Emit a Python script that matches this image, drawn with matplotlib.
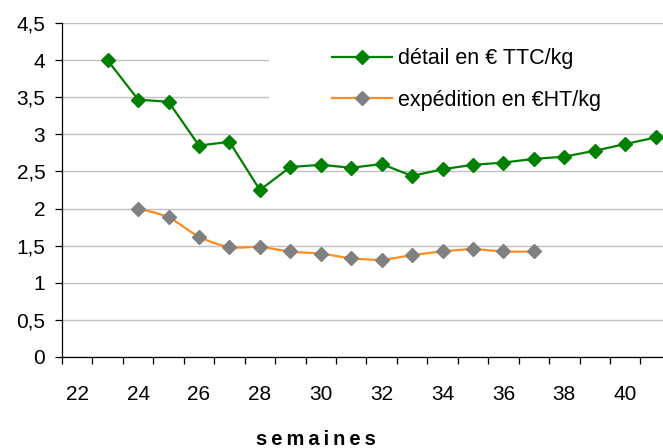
import numpy as np
import matplotlib
matplotlib.use("Agg")
import matplotlib.pyplot as plt
from matplotlib.path import Path
from matplotlib.patches import PathPatch, Rectangle
from matplotlib.lines import Line2D
from matplotlib.ticker import FuncFormatter, FixedLocator

plt.rcParams['font.family'] = ['Liberation Sans', 'DejaVu Sans']

# retail price, weeks 23-41
detail_weeks = [23, 24, 25, 26, 27, 28, 29, 30, 31, 32, 33, 34, 35, 36, 37, 38, 39, 40, 41]
detail_prices = [4.00, 3.47, 3.44, 2.85, 2.90, 2.25, 2.56, 2.59, 2.55, 2.60, 2.44, 2.53,
                 2.59, 2.62, 2.67, 2.70, 2.78, 2.87, 2.96]

# shipping price, weeks 24-37
exp_weeks = [24, 25, 26, 27, 28, 29, 30, 31, 32, 33, 34, 35, 36, 37]
exp_prices = [2.00, 1.88, 1.62, 1.48, 1.48, 1.42, 1.39, 1.33, 1.31, 1.37, 1.42, 1.45, 1.42, 1.42]

x_labels = [22, 24, 26, 28, 30, 32, 34, 36, 38, 40]
y_ticks = [0, 0.5, 1, 1.5, 2, 2.5, 3, 3.5, 4, 4.5]

green = '#008000'
orange = '#ff8c1e'
grey = '#808080'

fig = plt.figure(figsize=(6.63, 4.48), dpi=100)
ax = fig.add_axes([62 / 663, 1 - 356.7 / 448, 601 / 663, 333.4 / 448])

ax.set_xlim(21.5, 41.24)
ax.set_ylim(0, 4.5)

# gridlines and white area behind the legend
ax.set_axisbelow(True)
ax.yaxis.grid(True, color='#c0c0c0', linewidth=1.0)
ax.add_patch(Rectangle((0.344, 0.72), 0.66, 0.26, transform=ax.transAxes,
                       facecolor='white', edgecolor='none', zorder=1))

# retail line
ax.plot(detail_weeks, detail_prices, color=green, linewidth=1.6, marker='D',
        markersize=7, markerfacecolor=green, markeredgecolor=green, zorder=3)

# shipping line, smoothed like Excel
pts = np.column_stack([exp_weeks, exp_prices])
n = len(pts)
verts = [pts[0]]
codes = [Path.MOVETO]
for i in range(n - 1):
    p0 = pts[max(i - 1, 0)]
    p1 = pts[i]
    p2 = pts[i + 1]
    p3 = pts[min(i + 2, n - 1)]
    verts += [p1 + (p2 - p0) / 6, p2 - (p3 - p1) / 6, p2]
    codes += [Path.CURVE4] * 3
ax.add_patch(PathPatch(Path(verts, codes), fill=False, edgecolor=orange,
                       linewidth=1.6, zorder=2))
ax.plot(exp_weeks, exp_prices, linestyle='none', marker='D', markersize=7,
        markerfacecolor=grey, markeredgecolor=grey, zorder=3)

handles = [
    Line2D([], [], color=green, linewidth=1.6, marker='D', markersize=7,
           markerfacecolor=green, markeredgecolor=green),
    Line2D([], [], color=orange, linewidth=1.6, marker='D', markersize=7,
           markerfacecolor=grey, markeredgecolor=grey),
]
ax.legend(handles, ['détail en € TTC/kg', 'expédition en €HT/kg'],
          loc='upper left', bbox_to_anchor=(0.449, 0.925), frameon=False,
          fontsize=15.5, handlelength=2.8, handletextpad=0.28, labelspacing=0.95,
          borderpad=0, borderaxespad=0)

# axes styling
for side in ['top', 'right']:
    ax.spines[side].set_visible(False)
for side in ['left', 'bottom']:
    ax.spines[side].set_color('black')
    ax.spines[side].set_linewidth(0.9)

ax.set_yticks(y_ticks)
ax.yaxis.set_major_formatter(FuncFormatter(lambda v, p: f"{v:g}".replace('.', ',')))
ax.tick_params(axis='y', direction='out', length=5, width=0.9, pad=7, labelsize=15)

ax.set_xticks(x_labels)
ax.xaxis.set_minor_locator(FixedLocator(np.arange(21.5, 42, 1)))
ax.tick_params(axis='x', which='major', length=0, pad=20.5, labelsize=15)
ax.tick_params(axis='x', which='minor', direction='out', length=5, width=0.9)

fig.text(316 / 663, 1 - 445 / 448, 's\u2009e\u2009m\u2009a\u2009i\u2009n\u2009e\u2009s',
         ha='center', va='baseline', fontsize=14.5, fontweight='bold')

fig.savefig('out.png', dpi=100)
